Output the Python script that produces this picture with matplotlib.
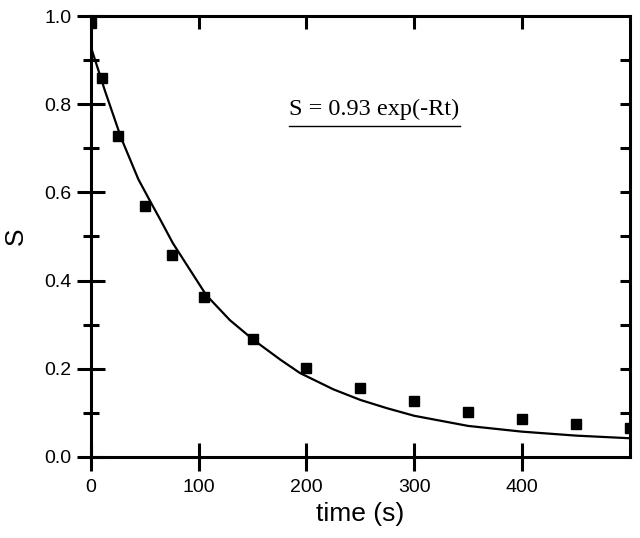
import matplotlib.pyplot as plt

# measured points
t_pts = [0, 10, 25, 50, 75, 105, 150, 200, 250, 300, 350, 400, 450, 500]
s_pts = [0.985, 0.86, 0.729, 0.569, 0.458, 0.363, 0.267, 0.201, 0.156, 0.126, 0.102, 0.086, 0.075, 0.065]

# fitted curve
t_fit = [0, 7, 13, 28, 44, 55, 64, 76, 107, 129, 151, 176, 194, 225, 250, 275, 300, 350, 400, 450, 500]
s_fit = [0.93, 0.877, 0.831, 0.724, 0.63, 0.58, 0.54, 0.485, 0.367, 0.31, 0.265, 0.22, 0.19, 0.153, 0.129, 0.11, 0.093, 0.07, 0.057, 0.048, 0.042]

plt.rcParams['font.family'] = ['Liberation Sans', 'DejaVu Sans']

fig = plt.figure(figsize=(6.4, 5.38), dpi=100)
ax = fig.add_axes([0.142, 0.151, 0.842, 0.819])

ax.plot(t_fit, s_fit, color='black', lw=1.6)
ax.plot(t_pts, s_pts, 's', color='black', markersize=6.8, clip_on=True)

ax.set_xlim(0, 500)
ax.set_ylim(0, 1.0)
ax.set_xticks([0, 100, 200, 300, 400])
ax.set_yticks([0.0, 0.2, 0.4, 0.6, 0.8, 1.0])
ax.set_yticks([0.1, 0.3, 0.5, 0.7, 0.9], minor=True)

for sp in ax.spines.values():
    sp.set_linewidth(2.2)

ax.tick_params(which='major', direction='inout', length=20, width=2.2, labelsize=14, pad=4)
ax.tick_params(which='minor', direction='inout', length=11, width=2.2)
ax.tick_params(axis='x', pad=6)

top = ax.secondary_xaxis('top')
top.set_xticks([0, 100, 200, 300, 400])
top.tick_params(direction='in', length=9, width=2.2, labeltop=False)
right = ax.secondary_yaxis('right')
right.set_yticks([0.1, 0.2, 0.3, 0.4, 0.5, 0.6, 0.7, 0.8, 0.9])
right.tick_params(direction='in', length=7, width=2.2, labelright=False)

ax.set_xlabel('time (s)', fontsize=19, labelpad=4)
ax.set_ylabel('S', fontsize=19, labelpad=12)

ax.text(0.526, 0.776, 'S = 0.93 exp(-Rt)', transform=ax.transAxes, ha='center', va='baseline',
        fontsize=17.5, family='Liberation Serif')
ax.plot([0.367, 0.685], [0.751, 0.751], transform=ax.transAxes, color='black', lw=1.0, clip_on=False)

fig.savefig('out.png', dpi=100)
